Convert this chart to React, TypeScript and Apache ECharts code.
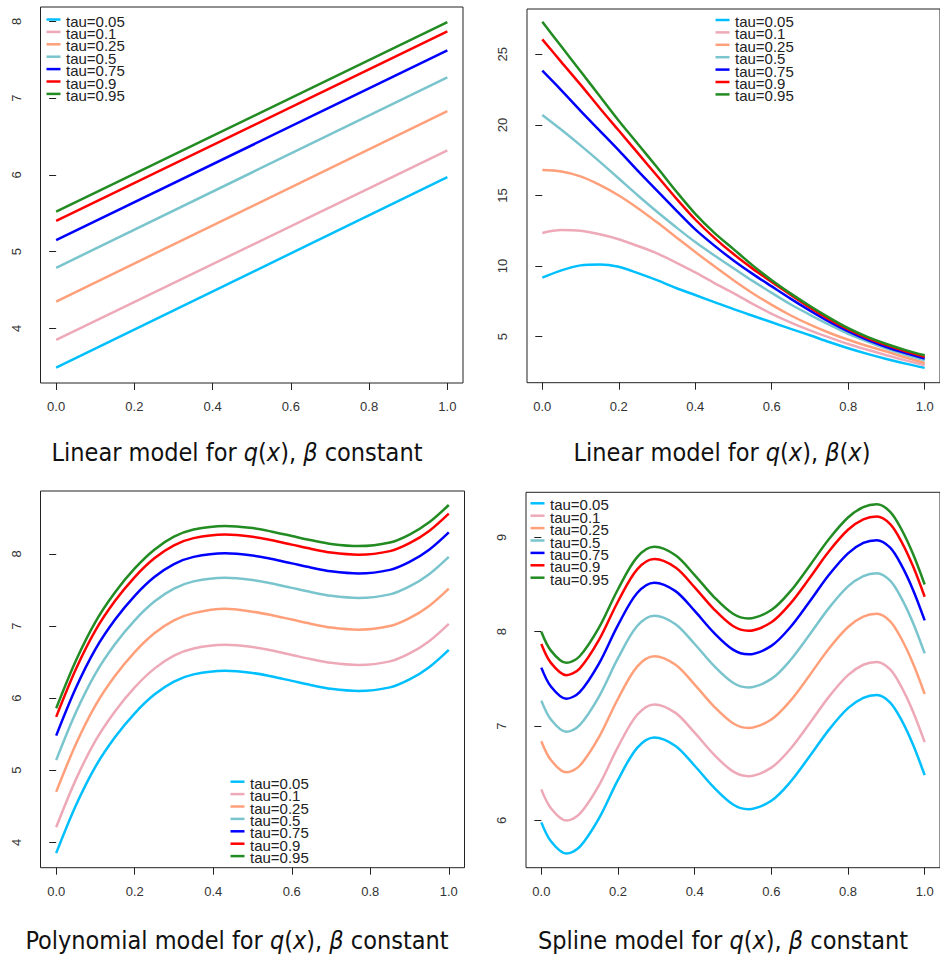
import React, { useEffect, useRef } from "react";
import * as echarts from "echarts";

// ---------- labels & colours ----------
const TAU_LABELS = ["tau=0.05", "tau=0.1", "tau=0.25", "tau=0.5", "tau=0.75", "tau=0.9", "tau=0.95"];
const COLORS = ["#00BFFF", "#EEA9B8", "#FFA07A", "#7AC5CD", "#0000FF", "#FF0000", "#228B22"];

// ---------- panel 1: linear model, beta constant ----------
const X_LINEAR = [0, 1];
const LIN_T005 = [3.49, 5.97];
const LIN_T010 = [3.85, 6.32];
const LIN_T025 = [4.35, 6.83];
const LIN_T050 = [4.79, 7.27];
const LIN_T075 = [5.15, 7.62];
const LIN_T090 = [5.40, 7.87];
const LIN_T095 = [5.52, 7.99];

// ---------- panel 2: linear model, beta(x) ----------
const X_BETA = [0, 0.05, 0.1, 0.15, 0.2, 0.25, 0.3, 0.35, 0.4, 0.45, 0.5, 0.55, 0.6, 0.65, 0.7, 0.75, 0.8, 0.85, 0.9, 0.95, 1.0];
const BETA_T005 = [9.18, 9.7, 10.05, 10.12, 9.95, 9.5, 9.0, 8.45, 7.95, 7.45, 6.95, 6.48, 6.02, 5.55, 5.1, 4.62, 4.18, 3.78, 3.42, 3.09, 2.79];
const BETA_T010 = [12.35, 12.55, 12.5, 12.25, 11.9, 11.42, 10.9, 10.25, 9.55, 8.8, 8.08, 7.32, 6.62, 6.0, 5.45, 4.95, 4.48, 4.07, 3.68, 3.32, 2.98];
const BETA_T025 = [16.8, 16.7, 16.35, 15.75, 15.0, 14.1, 13.1, 12.05, 11.0, 9.98, 9.0, 8.08, 7.25, 6.5, 5.85, 5.28, 4.78, 4.34, 3.95, 3.53, 3.14];
const BETA_T050 = [20.7, 19.65, 18.55, 17.4, 16.2, 15.0, 13.85, 12.75, 11.7, 10.75, 9.85, 8.95, 8.1, 7.28, 6.55, 5.85, 5.2, 4.65, 4.15, 3.72, 3.33];
const BETA_T075 = [23.84, 22.45, 21.0, 19.6, 18.2, 16.75, 15.35, 13.95, 12.6, 11.45, 10.4, 9.45, 8.56, 7.68, 6.85, 6.07, 5.38, 4.78, 4.27, 3.84, 3.45];
const BETA_T090 = [26.06, 24.45, 22.85, 21.2, 19.6, 18.0, 16.4, 14.8, 13.3, 12.0, 10.85, 9.82, 8.88, 7.95, 7.05, 6.23, 5.52, 4.9, 4.4, 3.96, 3.57];
const BETA_T095 = [27.3, 25.55, 23.8, 22.05, 20.3, 18.65, 17.0, 15.3, 13.7, 12.35, 11.2, 10.05, 9.0, 8.05, 7.17, 6.35, 5.6, 4.98, 4.48, 4.05, 3.68];

// ---------- panel 3: polynomial model ----------
const X_POLY = [0, 0.05, 0.1, 0.15, 0.2, 0.25, 0.3, 0.35, 0.43, 0.5, 0.55, 0.6, 0.65, 0.7, 0.77, 0.85, 0.9, 0.95, 1.0];
const POLY_T005 = [3.85, 4.51, 5.05, 5.46, 5.79, 6.05, 6.23, 6.33, 6.38, 6.35, 6.30, 6.24, 6.18, 6.13, 6.10, 6.15, 6.26, 6.43, 6.67];
const POLY_T010 = [4.21, 4.87, 5.41, 5.82, 6.15, 6.41, 6.59, 6.69, 6.74, 6.71, 6.66, 6.60, 6.54, 6.49, 6.46, 6.51, 6.62, 6.79, 7.03];
const POLY_T025 = [4.70, 5.36, 5.90, 6.31, 6.64, 6.90, 7.08, 7.18, 7.24, 7.20, 7.15, 7.09, 7.03, 6.98, 6.95, 7.00, 7.11, 7.28, 7.52];
const POLY_T050 = [5.14, 5.80, 6.34, 6.75, 7.08, 7.34, 7.52, 7.62, 7.67, 7.64, 7.59, 7.53, 7.47, 7.42, 7.39, 7.44, 7.55, 7.72, 7.96];
const POLY_T075 = [5.48, 6.14, 6.68, 7.09, 7.42, 7.68, 7.86, 7.96, 8.01, 7.98, 7.93, 7.87, 7.81, 7.76, 7.73, 7.78, 7.89, 8.06, 8.30];
const POLY_T090 = [5.74, 6.40, 6.94, 7.35, 7.68, 7.94, 8.12, 8.22, 8.27, 8.24, 8.19, 8.13, 8.07, 8.02, 7.99, 8.04, 8.15, 8.32, 8.56];
const POLY_T095 = [5.86, 6.52, 7.06, 7.47, 7.80, 8.06, 8.24, 8.34, 8.39, 8.36, 8.31, 8.25, 8.19, 8.14, 8.11, 8.16, 8.27, 8.44, 8.68];

// ---------- panel 4: spline model ----------
const X_SPLINE = [0, 0.025, 0.065, 0.1, 0.15, 0.2, 0.25, 0.295, 0.35, 0.4, 0.45, 0.5, 0.54, 0.6, 0.65, 0.7, 0.75, 0.8, 0.84, 0.875, 0.91, 0.94, 0.97, 1.0];
const SPL_T005 = [5.98, 5.78, 5.65, 5.72, 6.02, 6.43, 6.77, 6.88, 6.79, 6.58, 6.35, 6.17, 6.12, 6.21, 6.41, 6.68, 6.96, 7.19, 7.30, 7.33, 7.25, 7.06, 6.80, 6.48];
const SPL_T010 = [6.33, 6.13, 6.00, 6.07, 6.37, 6.78, 7.12, 7.23, 7.14, 6.93, 6.70, 6.52, 6.47, 6.56, 6.76, 7.03, 7.31, 7.54, 7.65, 7.68, 7.60, 7.41, 7.15, 6.83];
const SPL_T025 = [6.84, 6.64, 6.51, 6.58, 6.88, 7.29, 7.63, 7.74, 7.65, 7.44, 7.21, 7.03, 6.98, 7.07, 7.27, 7.54, 7.82, 8.05, 8.16, 8.19, 8.11, 7.92, 7.66, 7.34];
const SPL_T050 = [7.27, 7.07, 6.94, 7.01, 7.31, 7.72, 8.06, 8.17, 8.08, 7.87, 7.64, 7.46, 7.41, 7.50, 7.70, 7.97, 8.25, 8.48, 8.59, 8.62, 8.54, 8.35, 8.09, 7.77];
const SPL_T075 = [7.62, 7.42, 7.29, 7.36, 7.66, 8.07, 8.41, 8.52, 8.43, 8.22, 7.99, 7.81, 7.76, 7.85, 8.05, 8.32, 8.60, 8.83, 8.94, 8.97, 8.89, 8.70, 8.44, 8.12];
const SPL_T090 = [7.87, 7.67, 7.54, 7.61, 7.91, 8.32, 8.66, 8.77, 8.68, 8.47, 8.24, 8.06, 8.01, 8.10, 8.30, 8.57, 8.85, 9.08, 9.19, 9.22, 9.14, 8.95, 8.69, 8.37];
const SPL_T095 = [8.00, 7.80, 7.67, 7.74, 8.04, 8.45, 8.79, 8.90, 8.81, 8.60, 8.37, 8.19, 8.14, 8.23, 8.43, 8.70, 8.98, 9.21, 9.32, 9.35, 9.27, 9.08, 8.82, 8.50];

// ---------- ticks & captions ----------
const X_TICKS = [0, 0.2, 0.4, 0.6, 0.8, 1.0];
const Y_TICKS_1 = [4, 5, 6, 7, 8];
const Y_TICKS_2 = [5, 10, 15, 20, 25];
const Y_TICKS_3 = [4, 5, 6, 7, 8];
const Y_TICKS_4 = [6, 7, 8, 9];
const CAPTIONS = [
  "Linear model for {i|q}({i|x}), {i|β} constant",
  "Linear model for {i|q}({i|x}), {i|β}({i|x})",
  "Polynomial model for {i|q}({i|x}), {i|β} constant",
  "Spline model for {i|q}({i|x}), {i|β} constant",
];

const PANELS = [
  { xs: X_LINEAR, ys: [LIN_T005, LIN_T010, LIN_T025, LIN_T050, LIN_T075, LIN_T090, LIN_T095], yTicks: Y_TICKS_1, smooth: false },
  { xs: X_BETA, ys: [BETA_T005, BETA_T010, BETA_T025, BETA_T050, BETA_T075, BETA_T090, BETA_T095], yTicks: Y_TICKS_2, smooth: true },
  { xs: X_POLY, ys: [POLY_T005, POLY_T010, POLY_T025, POLY_T050, POLY_T075, POLY_T090, POLY_T095], yTicks: Y_TICKS_3, smooth: true },
  { xs: X_SPLINE, ys: [SPL_T005, SPL_T010, SPL_T025, SPL_T050, SPL_T075, SPL_T090, SPL_T095], yTicks: Y_TICKS_4, smooth: true },
];

// layout (pixel boxes and axis extents, R-style 4% padding)
const LAYOUT = [
  { left: 40.5, top: 7, width: 422.5, height: 376, xMin: -0.04, xMax: 1.04, yMin: 3.29, yMax: 8.186, legX: 46.5, legY: 19.5, capX: 237, capY: 452 },
  { left: 527, top: 9, width: 421, height: 373.7, xMin: -0.04, xMax: 1.04, yMin: 1.74, yMax: 28.21, legX: 715.5, legY: 20, capX: 722, capY: 452 },
  { left: 40.5, top: 491, width: 424, height: 376.7, xMin: -0.04, xMax: 1.04, yMin: 3.648, yMax: 8.874, legX: 230.5, legY: 781.7, capX: 237, capY: 940 },
  { left: 526, top: 492.3, width: 421, height: 375.4, xMin: -0.04, xMax: 1.04, yMin: 5.5, yMax: 9.477, legX: 530.5, legY: 503.3, capX: 723, capY: 940 },
];

const TICK_FONT = '"Liberation Sans", Arial, sans-serif';
const CAP_FONT = '"DejaVu Sans Condensed", "DejaVu Sans", sans-serif';

function fmtX(v: number) {
  return v.toFixed(1);
}

function buildOption() {
  const grid: any[] = [];
  const xAxis: any[] = [];
  const yAxis: any[] = [];
  const series: any[] = [];
  const graphic: any[] = [];

  PANELS.forEach((p, k) => {
    const L = LAYOUT[k];
    grid.push({
      left: L.left,
      top: L.top,
      width: L.width,
      height: L.height,
      show: true,
      borderColor: "#222",
      borderWidth: 1,
      backgroundColor: "transparent",
      containLabel: false,
    });
    xAxis.push({
      type: "value",
      gridIndex: k,
      min: L.xMin,
      max: L.xMax,
      axisLine: { show: false },
      splitLine: { show: false },
      axisTick: { show: true, length: 7, lineStyle: { color: "#222", width: 1 }, customValues: X_TICKS },
      axisLabel: {
        show: true,
        customValues: X_TICKS,
        formatter: (v: number) => fmtX(v),
        margin: 17,
        color: "#333",
        fontSize: 13,
        fontFamily: TICK_FONT,
      },
    });
    yAxis.push({
      type: "value",
      gridIndex: k,
      min: L.yMin,
      max: L.yMax,
      axisLine: { show: false },
      splitLine: { show: false },
      axisTick: { show: true, length: 7, lineStyle: { color: "#222", width: 1 }, customValues: p.yTicks },
      axisLabel: {
        show: true,
        customValues: p.yTicks,
        formatter: (v: number) => String(v),
        rotate: 90,
        margin: 18,
        color: "#333",
        fontSize: 13,
        fontFamily: TICK_FONT,
      },
    });
    p.ys.forEach((ys, j) => {
      series.push({
        type: "line",
        name: TAU_LABELS[j],
        xAxisIndex: k,
        yAxisIndex: k,
        data: p.xs.map((x, i) => [x, ys[i]]),
        smooth: p.smooth ? 0.33 : false,
        showSymbol: false,
        symbol: "none",
        lineStyle: { color: COLORS[j], width: 2.5 },
        itemStyle: { color: COLORS[j] },
        emphasis: { disabled: true },
        z: 2 + j,
      });
    });

    // legend (R style, tightly stacked)
    TAU_LABELS.forEach((lab, j) => {
      const y = L.legY + j * 12.4;
      graphic.push({
        type: "line",
        shape: { x1: L.legX, y1: y, x2: L.legX + 14, y2: y },
        style: { stroke: COLORS[j], lineWidth: 2.5 },
        z: 50,
      });
      graphic.push({
        type: "text",
        x: L.legX + 19.5,
        y: y + 1.5,
        style: {
          text: lab,
          fill: "#222",
          fontSize: 15,
          fontFamily: TICK_FONT,
          align: "left",
          verticalAlign: "middle",
        },
        z: 50,
      });
    });

    // caption
    graphic.push({
      type: "text",
      x: L.capX,
      y: L.capY,
      style: {
        text: CAPTIONS[k],
        fill: "#111",
        fontSize: 25,
        fontFamily: CAP_FONT,
        align: "center",
        verticalAlign: "middle",
        rich: {
          i: { fontStyle: "italic", fontSize: 25, fontFamily: CAP_FONT, fill: "#111" },
        },
      },
      z: 50,
    });
  });

  return {
    animation: false,
    backgroundColor: "#ffffff",
    grid,
    xAxis,
    yAxis,
    series,
    graphic,
  };
}

export default function App() {
  const ref = useRef<HTMLDivElement | null>(null);
  useEffect(() => {
    if (!ref.current) return;
    const chart = echarts.init(ref.current, undefined, { renderer: "svg" });
    chart.setOption(buildOption() as any);
    return () => {
      chart.dispose();
    };
  }, []);
  return (
    <div
      ref={ref}
      style={{ position: "fixed", left: 0, top: 0, width: 940, height: 957, background: "#fff" }}
    />
  );
}
